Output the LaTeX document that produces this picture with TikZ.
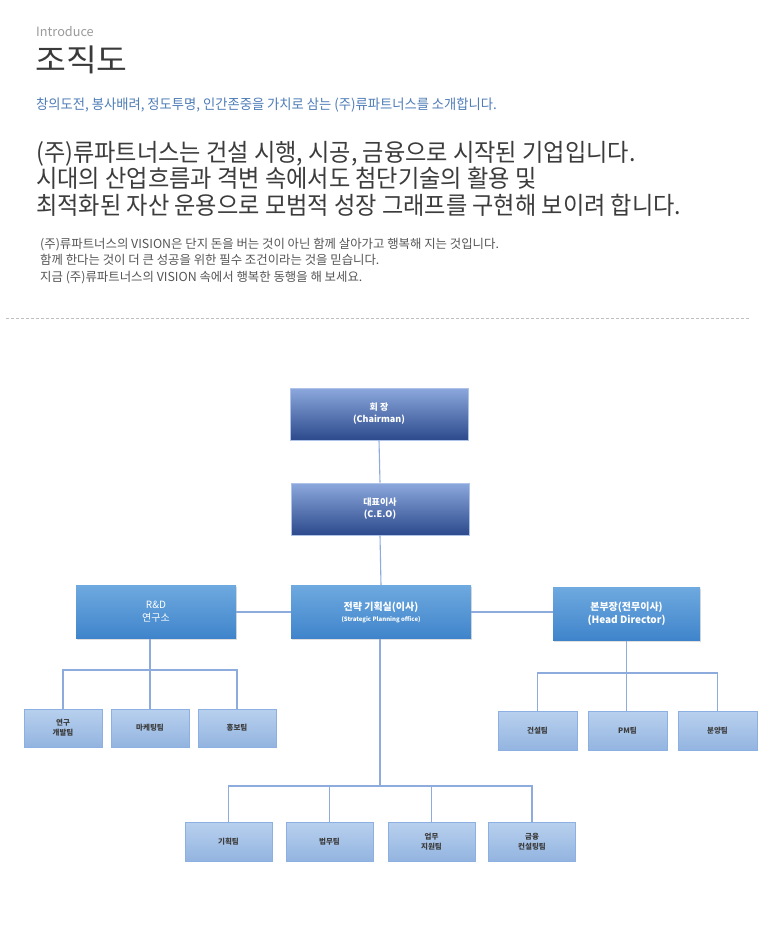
\documentclass[tikz,border=0pt]{standalone}
\usepackage{fontspec}
\setmainfont{Noto Sans CJK KR}
\newfontfamily\narrowkr{Noto Sans CJK KR}[FakeStretch=0.95]
\newfontfamily\widekr{Noto Sans CJK KR}[FakeStretch=1.08]
\usetikzlibrary{shadows}
\definecolor{linkblue}{HTML}{8EABDE}
\definecolor{titlegray}{HTML}{3A3A3A}
\definecolor{introgray}{HTML}{9A9A9A}
\definecolor{leadblue}{HTML}{4F7DB8}
\definecolor{bodygray}{HTML}{3C3C3C}
\definecolor{notegray}{HTML}{555555}
\definecolor{navytop}{HTML}{8CA8DD}
\definecolor{navymid}{HTML}{4A72C6}
\definecolor{navybot}{HTML}{2C4A8C}
\definecolor{skytop}{HTML}{6EA9DF}
\definecolor{skybot}{HTML}{3F84CB}
\definecolor{paletop}{HTML}{B8D0EE}
\definecolor{palebot}{HTML}{93B4E0}
\definecolor{paleline}{HTML}{8DB0E3}

\begin{document}
\begin{tikzpicture}[x=1pt,y=-1pt,
  link/.style={draw=linkblue,line width=1.1pt},
  navybox/.style={top color=navytop,middle color=navymid,bottom color=navybot,
    draw=navytop!70!white,line width=0.6pt,inner sep=0pt,
    minimum width=178pt,minimum height=52pt,align=center,text=white,
    font=\fontsize{9}{12}\selectfont\bfseries},
  skybox/.style={top color=skytop,bottom color=skybot,draw=none,inner sep=0pt,
    minimum height=53pt,align=center,text=white,
    drop shadow={opacity=0.25,shadow xshift=1pt,shadow yshift=-1.5pt},
    font=\fontsize{10}{13}\selectfont\bfseries},
  teambox/.style={top color=paletop,bottom color=palebot,draw=paleline,
    line width=0.7pt,inner sep=0pt,minimum height=38pt,align=center,
    text=bodygray,font=\fontsize{7.5}{10}\selectfont\bfseries}]
  \useasboundingbox[fill=white] (0,0) rectangle (780,950);

  % heading
  \node[font=\fontsize{12.7}{15}\selectfont,text=introgray,anchor=base west,
    inner sep=0pt] (intro) at (36,37) {Introduce};
  \node[font=\widekr\fontsize{31}{34}\selectfont,text=titlegray,anchor=base west,
    inner sep=0pt] (title) at (35,71) {조직도};
  \node[font=\narrowkr\fontsize{14}{16}\selectfont,text=leadblue,
    anchor=base west,inner sep=0pt] (lead) at (36,109)
    {창의도전, 봉사배려, 정도투명, 인간존중을 가치로 삼는 (주)류파트너스를 소개합니다.};
  \foreach \i/\yy/\txt in {
    1/161/{(주)류파트너스는 건설 시행, 시공, 금융으로 시작된 기업입니다.},
    2/187/{시대의 산업흐름과 격변 속에서도 첨단기술의 활용 및},
    3/214/{최적화된 자산 운용으로 모범적 성장 그래프를 구현해 보이려 합니다.}}{
      \node[font=\narrowkr\fontsize{24.4}{27}\selectfont,text=bodygray,
        anchor=base west,inner sep=0pt] (body\i) at (36,\yy) {\txt};
  }
  \foreach \i/\yy/\txt in {
    1/248/{(주)류파트너스의 VISION은 단지 돈을 버는 것이 아닌 함께 살아가고 행복해 지는 것입니다.},
    2/264.5/{함께 한다는 것이 더 큰 성공을 위한 필수 조건이라는 것을 믿습니다.},
    3/281/{지금 (주)류파트너스의 VISION 속에서 행복한 동행을 해 보세요.}}{
      \node[font=\fontsize{12.4}{14}\selectfont,text=notegray,
        anchor=base west,inner sep=0pt] (note\i) at (40,\yy) {\txt};
  }
  \draw[black!25,dashed,dash pattern=on 3pt off 2pt] (6,318) -- (750,318);

  % upper chain
  \node[navybox] (chair) at (379,414) {회 장\\(Chairman)};
  \node[navybox] (ceo) at (380,509) {대표이사\\(C.E.O)};
  \node[skybox,minimum width=180pt] (plan) at (381,612)
    {전략 기획실(이사)\\[-2pt]{\fontsize{6}{8}\selectfont(Strategic Planning office)}};
  \node[skybox,minimum width=160pt,font=\fontsize{10}{13}\selectfont] (rnd)
    at (156,612) {R\&D\\연구소};
  \node[skybox,minimum width=147pt] (head) at (626.5,614)
    {본부장(전무이사)\\(Head Director)};

  % teams
  \foreach \name/\xx/\lab in {lt1/63/{연구\\개발팀},lt2/150/마케팅팀,lt3/237/홍보팀}{
    \node[teambox,minimum width=78pt] (\name) at (\xx,728) {\lab};
  }
  \foreach \name/\xx/\lab in {rt1/537.5/건설팀,rt2/627.5/PM팀,rt3/717.5/분양팀}{
    \node[teambox,minimum width=79pt,minimum height=39pt] (\name) at (\xx,731) {\lab};
  }
  \foreach \name/\xx/\lab in {bt1/228.5/기획팀,bt2/329.5/법무팀,
    bt3/431.5/{업무\\지원팀},bt4/532/{금융\\컨설팅팀}}{
    \node[teambox,minimum width=87pt,minimum height=39pt] (\name) at (\xx,841.5) {\lab};
  }

  % connectors
  \coordinate (lbus) at (150,670);
  \coordinate (rbus) at (627,673);
  \coordinate (bbus) at (380,786);
  \draw[link] (chair.south) -- (ceo.north);
  \draw[link] (ceo.south) -- (plan.north);
  \draw[link] (plan.west) -- (rnd.east);
  \draw[link] (plan.east) -- (plan.east -| head.west);
  \draw[link] (rnd.south -| lt2.north) -- (lt2.north);
  \draw[link] (lt1.north) |- (lbus) -| (lt3.north);
  \draw[link] (head.south) -- (head.south |- rt2.north);
  \draw[link] (rt1.north) |- (rbus) -| (rt3.north);
  \draw[link] (plan.south -| bbus) -- (bbus);
  \draw[link] (bt1.north) |- (bbus) -| (bt4.north);
  \foreach \name in {bt2,bt3}{
    \draw[link] (\name.north) -- (\name.north |- bbus);
  }
\end{tikzpicture}
\end{document}
